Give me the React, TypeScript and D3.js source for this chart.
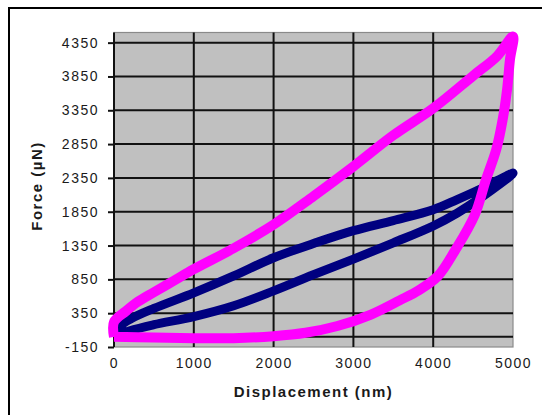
import React, { useEffect, useRef } from 'react';
import * as d3 from 'd3';

// tick values
const xTicks = [0, 1000, 2000, 3000, 4000, 5000];
const yTicks = [-150, 350, 850, 1350, 1850, 2350, 2850, 3350, 3850, 4350];

// magenta loop: loading (upper branch) then unloading
const magentaDisp = [
  0, 0, 150, 300, 500, 750, 1000, 1500, 2000, 2500, 3000, 3500, 4000, 4500, 4800, 5000,
  4962, 4925, 4870, 4790, 4660, 4520, 4280, 4060, 3820, 3580, 3220, 2800, 2400, 2000, 1500, 1000, 500, 0,
];
const magentaForce = [
  0, 220, 380, 520, 660, 830, 1000, 1310, 1660, 2080, 2520, 2980, 3380, 3860, 4150, 4440,
  4100, 3650, 3210, 2770, 2320, 1800, 1290, 900, 690, 540, 330, 160, 60, 10, -20, -20, -10, 0,
];

// navy loop: lower branch out to 5000 nm, upper branch back
const navyDisp = [
  0, 200, 500, 1000, 1500, 2000, 2500, 3000, 3500, 4000, 4300, 4600, 5000,
  4800, 4600, 4300, 4000, 3500, 3000, 2500, 2000, 1500, 1000, 500, 200, 80, 0,
];
const navyForce = [
  0, 90, 180, 300, 460, 680, 920, 1150, 1390, 1640, 1830, 2060, 2420,
  2310, 2190, 2030, 1880, 1720, 1570, 1380, 1170, 900, 650, 420, 260, 160, 0,
];

const FONT = '"Liberation Sans", Arial, sans-serif';

const App = () => {
  const svgRef = useRef<SVGSVGElement | null>(null);

  useEffect(() => {
    const svg = d3.select(svgRef.current).html('');

    const x = d3.scaleLinear().domain([0, 5000]).range([114, 513]);
    const y = d3.scaleLinear().domain([-150, 4500]).range([347, 32.5]);

    // outer frame
    svg.append('rect')
      .attr('x', 9).attr('y', 8)
      .attr('width', 600).attr('height', 500)
      .attr('fill', '#fff')
      .attr('stroke', '#000')
      .attr('stroke-width', 2);

    // plot area
    svg.append('rect')
      .attr('x', x(0)).attr('y', y(4500))
      .attr('width', x(5000) - x(0))
      .attr('height', y(-150) - y(4500))
      .attr('fill', '#c0c0c0')
      .attr('stroke', '#8a8a8a')
      .attr('stroke-width', 1.2);

    // gridlines
    svg.append('g')
      .selectAll('line')
      .data(yTicks.filter(d => d > -150))
      .join('line')
      .attr('x1', x(0)).attr('x2', x(5000))
      .attr('y1', d => y(d)).attr('y2', d => y(d))
      .attr('stroke', '#111')
      .attr('stroke-width', 2);

    svg.append('g')
      .selectAll('line')
      .data(xTicks.filter(d => d > 0 && d < 5000))
      .join('line')
      .attr('x1', d => x(d)).attr('x2', d => x(d))
      .attr('y1', y(4500)).attr('y2', y(-150))
      .attr('stroke', '#111')
      .attr('stroke-width', 2);

    // horizontal axis crosses at zero
    svg.append('line')
      .attr('x1', x(0)).attr('x2', x(5000))
      .attr('y1', y(0)).attr('y2', y(0))
      .attr('stroke', '#111')
      .attr('stroke-width', 2);

    // left axis
    const yAxis = d3.axisLeft(y).tickValues(yTicks).tickSize(6).tickPadding(9).tickFormat(d => String(d));
    const gy = svg.append('g').attr('transform', `translate(${x(0)},0)`).call(yAxis);
    gy.select('path.domain').remove();
    gy.selectAll('.tick line').attr('stroke', '#111').attr('stroke-width', 2);
    gy.selectAll('text')
      .attr('fill', '#1a1a1a')
      .style('font-family', FONT)
      .style('font-size', '14px')
      .style('letter-spacing', '1.5px');
    svg.append('line')
      .attr('x1', x(0)).attr('x2', x(0))
      .attr('y1', y(4500)).attr('y2', y(-150))
      .attr('stroke', '#111')
      .attr('stroke-width', 2);

    // bottom tick labels
    const xAxis = d3.axisBottom(x).tickValues(xTicks).tickSize(0).tickPadding(11).tickFormat(d => String(d));
    const gx = svg.append('g').attr('transform', `translate(0,${y(-150)})`).call(xAxis);
    gx.select('path.domain').remove();
    gx.selectAll('text')
      .attr('fill', '#1a1a1a')
      .style('font-family', FONT)
      .style('font-size', '14px')
      .style('letter-spacing', '1.5px');

    // series
    const line = d3.line<[number, number]>()
      .x(d => x(d[0]))
      .y(d => y(d[1]))
      .curve(d3.curveCatmullRom.alpha(0.5));

    const navy = navyDisp.map((d, i) => [d, navyForce[i]] as [number, number]);
    const magenta = magentaDisp.map((d, i) => [d, magentaForce[i]] as [number, number]);

    svg.append('path')
      .datum(navy)
      .attr('fill', 'none')
      .attr('stroke', '#000080')
      .attr('stroke-width', 9)
      .attr('stroke-linejoin', 'round')
      .attr('d', line);

    svg.append('path')
      .datum(magenta)
      .attr('fill', 'none')
      .attr('stroke', '#ff00ff')
      .attr('stroke-width', 10)
      .attr('stroke-linejoin', 'round')
      .attr('d', line);

    // axis titles
    svg.append('text')
      .attr('x', (x(0) + x(5000)) / 2)
      .attr('y', 397)
      .attr('text-anchor', 'middle')
      .attr('fill', '#1a1a1a')
      .style('font-family', FONT)
      .style('font-size', '15px')
      .style('font-weight', 'bold')
      .style('letter-spacing', '1.5px')
      .text('Displacement (nm)');

    svg.append('text')
      .attr('transform', 'translate(42,186) rotate(-90)')
      .attr('text-anchor', 'middle')
      .attr('fill', '#1a1a1a')
      .style('font-family', FONT)
      .style('font-size', '15px')
      .style('font-weight', 'bold')
      .style('letter-spacing', '1.5px')
      .text('Force (µN)');
  }, []);

  return (
    <svg
      ref={svgRef}
      width={542}
      height={415}
      style={{ position: 'absolute', left: 0, top: 0, background: '#fff' }}
    />
  );
};

export default App;
